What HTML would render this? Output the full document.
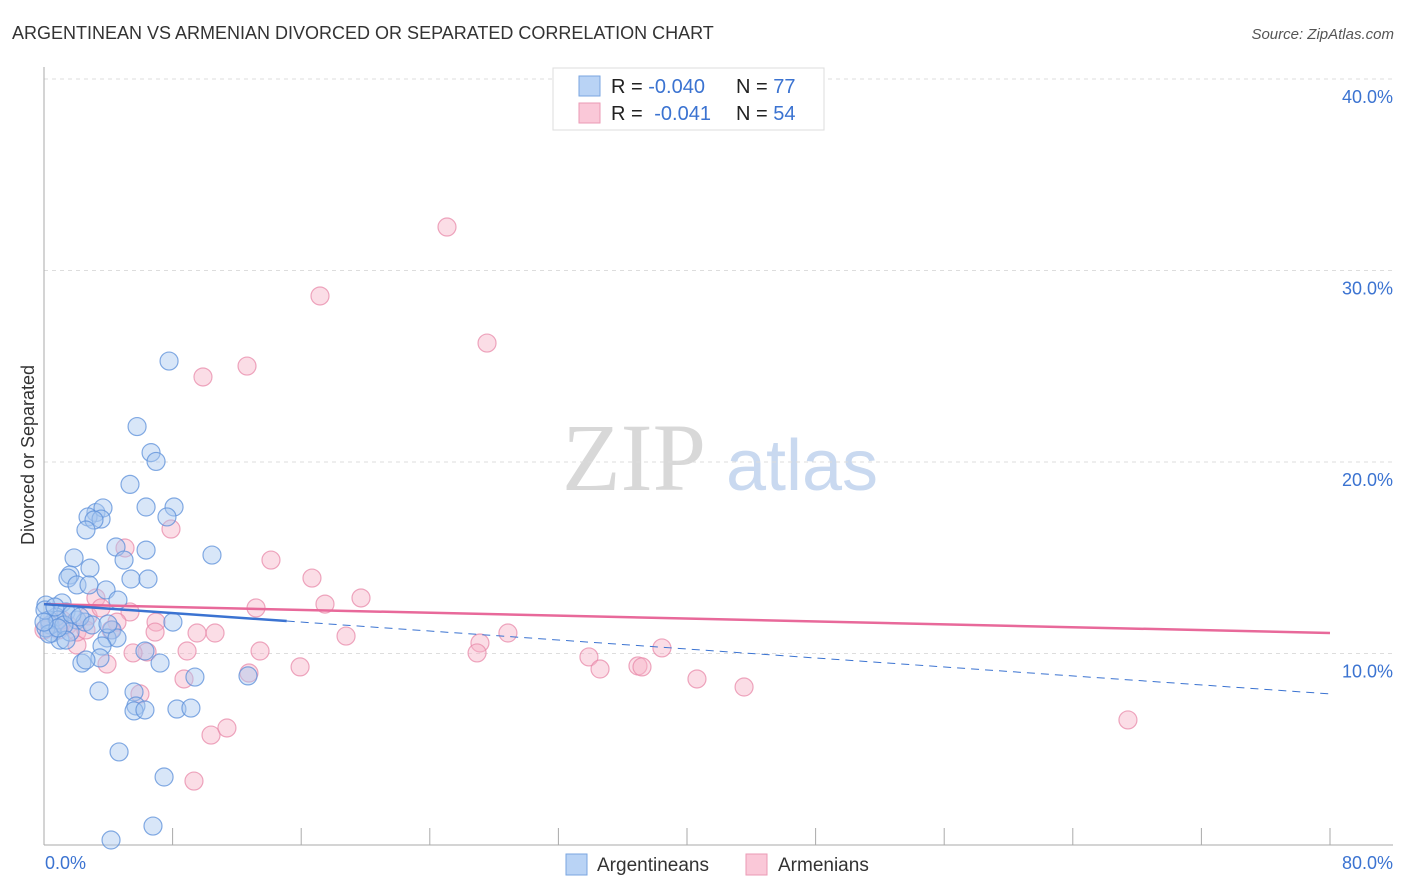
<!DOCTYPE html>
<html><head><meta charset="utf-8"><style>
body{margin:0;background:#fff;font-family:"Liberation Sans",sans-serif;}
svg{display:block}
</style></head><body>
<svg id="chart" width="1406" height="892" xmlns="http://www.w3.org/2000/svg">
<text x="12" y="39" font-size="18" fill="#333">ARGENTINEAN VS ARMENIAN DIVORCED OR SEPARATED CORRELATION CHART</text>
<text x="1394" y="39" font-size="15" fill="#555" font-style="italic" text-anchor="end">Source: ZipAtlas.com</text>
<text x="634" y="490" font-size="96" fill="#d8d8d8" font-family="Liberation Serif,serif" text-anchor="middle">ZIP</text>
<text x="802" y="490" font-size="72" fill="#c9d9f0" text-anchor="middle">atlas</text>
<g id="grid"></g>
<g id="axes"></g>
<g id="pts"></g>
<g id="trends"></g>
<text x="34" y="455" font-size="18" fill="#333" text-anchor="middle" transform="rotate(-90 34 455)">Divorced or Separated</text>
<text x="45" y="869" font-size="18" fill="#3b73d1">0.0%</text>
<text x="1393" y="869" font-size="18" fill="#3b73d1" text-anchor="end">80.0%</text>
<g>
<rect x="553" y="68" width="271" height="62" fill="#fff" stroke="#ddd"/>
<rect x="579" y="76" width="21" height="20" fill="#b9d3f5" stroke="#7aa6e0"/>
<rect x="579" y="103" width="21" height="20" fill="#fac8d8" stroke="#eb9ab5"/>
<text x="611" y="93" font-size="20" fill="#222">R = <tspan fill="#3b73d1">-0.040</tspan></text>
<text x="736" y="93" font-size="20" fill="#222">N = <tspan fill="#3b73d1">77</tspan></text>
<text x="611" y="120" font-size="20" fill="#222">R = <tspan fill="#3b73d1" dx="6">-0.041</tspan></text>
<text x="736" y="120" font-size="20" fill="#222">N = <tspan fill="#3b73d1">54</tspan></text>
</g>
<g>
<rect x="566" y="854" width="21" height="21" fill="#b9d3f5" stroke="#7aa6e0"/>
<text x="597" y="871" font-size="19" fill="#333">Argentineans</text>
<rect x="746" y="854" width="21" height="21" fill="#fac8d8" stroke="#eb9ab5"/>
<text x="778" y="871" font-size="19" fill="#333">Armenians</text>
</g>
</svg>
<script>
const yTicks=[10,20,30,40];
const xTicks=[8,16,24,32,40,48,56,64,72,80];
const blueX=[7.78,5.79,6.66,6.97,5.35,3.23,3.67,6.35,8.09,2.74,3.55,3.11,7.65,2.61,4.48,6.35,1.87,4.98,10.45,2.86,1.62,1.49,5.41,6.47,2.05,2.80,3.86,4.60,1.12,0.12,1.37,2.05,2.55,0.75,0.37,0.50,1.00,4.23,3.92,4.54,8.02,3.61,0.31,0.12,1.62,6.28,3.48,7.22,2.36,2.61,9.39,12.69,3.42,5.60,5.72,5.60,6.28,8.27,9.14,4.67,7.47,4.17,6.78,0.87,1.24,0.06,0.68,1.74,2.24,2.99,3.98,1.37,0.31,0.87,0.0];
const blueY=[25.27,21.85,20.49,20.03,18.83,17.36,17.60,17.65,17.65,17.13,17.02,16.97,17.13,16.45,15.56,15.40,14.99,14.88,15.14,14.46,14.10,13.94,13.89,13.89,13.58,13.58,13.32,12.79,12.64,12.53,12.17,11.75,11.64,11.91,11.49,11.07,10.70,11.23,10.81,10.81,11.64,10.39,11.75,11.33,11.12,10.13,9.77,9.50,9.50,9.66,8.77,8.83,8.04,7.99,7.26,7.00,7.05,7.10,7.15,4.86,3.55,0.26,0.99,11.75,11.49,12.27,12.43,12.06,11.91,11.49,11.54,10.70,11.02,11.33,11.64];
const pinkX=[25.07,17.17,27.56,9.89,12.63,7.90,5.04,14.12,16.67,17.48,19.72,13.19,5.35,3.23,6.97,6.91,4.54,9.52,10.64,18.79,28.86,27.12,38.44,13.44,8.90,6.41,5.54,15.93,26.94,33.90,34.59,36.95,37.20,40.62,43.55,8.71,5.97,3.92,2.05,0.93,0.37,1.49,2.74,67.43,10.39,11.38,9.33,12.75,3.55,2.05,4.17,1.12,2.61,0.0];
const pinkY=[32.27,28.67,26.21,24.44,25.01,16.50,15.51,14.88,13.94,12.58,12.90,12.38,12.17,12.90,11.64,11.12,11.64,11.07,11.07,10.91,11.07,10.55,10.29,10.13,10.13,10.08,10.03,9.30,10.03,9.82,9.19,9.35,9.30,8.67,8.25,8.67,7.89,9.45,10.44,11.23,11.49,11.49,11.96,6.53,5.74,6.11,3.34,8.98,12.38,11.12,11.23,11.75,11.23,11.23];
const blueTrend=[12.58,7.89];
const pinkTrend=[12.58,11.07];
const blueSolidEnd=15.1;
const NS="http://www.w3.org/2000/svg";
const X=v=>44+v*16.075, Y=v=>845-v*19.15;
function mk(tag,attrs,parent){const e=document.createElementNS(NS,tag);for(const k in attrs)e.setAttribute(k,attrs[k]);document.getElementById(parent).appendChild(e);return e;}
yTicks.forEach(t=>{
 const l=mk('line',{x1:44,x2:1393,y1:Y(t),y2:Y(t),stroke:'#ddd','stroke-dasharray':'4,4'},'grid');
 
 
 const tx=mk('text',{x:1393,y:Y(t)+24,'font-size':18,fill:'#3b73d1','text-anchor':'end'},'grid');
 tx.textContent=t.toFixed(1)+'%';
 
 
});
let a=mk('line',{x1:44,x2:44,y1:67,y2:845,stroke:'#aaa'},'axes');


a=mk('line',{x1:44,x2:1393,y1:845,y2:845,stroke:'#aaa'},'axes');


xTicks.forEach(t=>{
 const l=mk('line',{x1:X(t),x2:X(t),y1:828,y2:845,stroke:'#aaa'},'axes');
 
 
});
function pts(xs,ys,fill,stroke,name){
 xs.forEach((x,i)=>{
  const c=mk('circle',{cx:X(x),cy:Y(ys[i]),r:9,fill:fill,'fill-opacity':0.45,stroke:stroke,'stroke-opacity':0.75,'stroke-width':1.2},'pts');
  
  
 });
}
pts(pinkX,pinkY,'#f6b3c8','#e88aaa','armenian-point');
pts(blueX,blueY,'#a9c8f0','#5b8fd9','argentinean-point');
const bAt=x=>blueTrend[0]+(blueTrend[1]-blueTrend[0])*x/80;
let t=mk('line',{x1:X(0),y1:Y(pinkTrend[0]),x2:X(80),y2:Y(pinkTrend[1]),stroke:'#e8699a','stroke-width':2.5},'trends');


t=mk('line',{x1:X(blueSolidEnd),y1:Y(bAt(blueSolidEnd)),x2:X(80),y2:Y(blueTrend[1]),stroke:'#3b73d1','stroke-width':1,'stroke-dasharray':'8,6'},'trends');


t=mk('line',{x1:X(0),y1:Y(blueTrend[0]),x2:X(blueSolidEnd),y2:Y(bAt(blueSolidEnd)),stroke:'#3b73d1','stroke-width':2.5},'trends');


</script>
</body></html>
